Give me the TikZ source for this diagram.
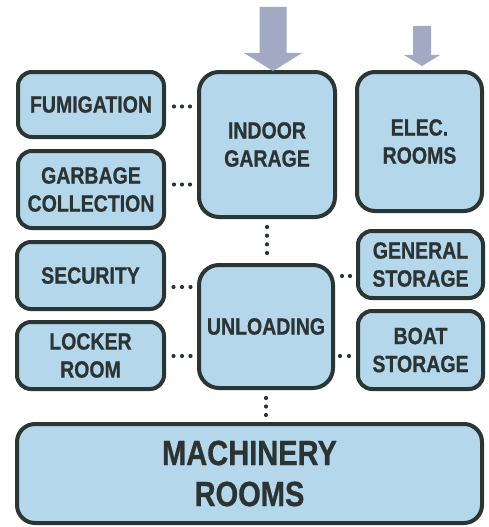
\documentclass[tikz,border=0pt]{standalone}
\usepackage{fontspec}
\newfontfamily\lbl[FakeStretch=0.83, BoldFeatures={FakeBold=0.8}]{Liberation Sans}
\usetikzlibrary{calc,decorations.markings}
\definecolor{boxfill}{HTML}{B5D7EB}
\definecolor{boxline}{HTML}{2B3533}
\definecolor{arrowc}{HTML}{A2A9C2}
\definecolor{txt}{HTML}{2B3333}
\begin{document}
\begin{tikzpicture}[x=1pt,y=-1pt,
  room/.style={draw=boxline, fill=boxfill, line width=4pt, rounded corners=14pt,
    inner sep=0pt, outer sep=0pt, align=center, text=txt,
    font=\lbl\bfseries\fontsize{23.5}{28}\selectfont},
  bigroom/.style={room, rounded corners=20pt},
  dotlink/.style n args={3}{decoration={markings,
      mark=between positions #1 and #2 step #3 with {\fill[boxline] (0,0) circle (2.1pt);}},
    decorate},
  feed/.style={fill=arrowc}]
\fill[white] (0,0) rectangle (488,527);
\useasboundingbox (0,0) rectangle (488,527);

\node[room, minimum width=146pt, minimum height=65pt] (fum) at (91,104.5) {FUMIGATION};
\node[room, minimum width=146pt, minimum height=77pt] (garb) at (91,189.5) {GARBAGE\\COLLECTION};
\node[bigroom, minimum width=136pt, minimum height=145pt] (garage) at (267,144.5) {INDOOR\\GARAGE};
\node[bigroom, rounded corners=18pt, minimum width=125pt, minimum height=139pt] (elec) at (419.5,141.5) {ELEC.\\ROOMS};
\node[room, minimum width=147pt, minimum height=67pt] (sec) at (90.5,275.5) {SECURITY};
\node[room, minimum width=147pt, minimum height=67pt] (lock) at (90.5,355.5) {LOCKER\\ROOM};
\node[bigroom, minimum width=134pt, minimum height=123pt] (unload) at (266,326.5) {UNLOADING};
\node[room, minimum width=125pt, minimum height=67pt] (gen) at (420.5,264.5) {GENERAL\\STORAGE};
\node[room, minimum width=125pt, minimum height=78pt] (boat) at (420.5,350) {BOAT\\STORAGE};
\node[room, rounded corners=18pt, minimum width=465pt, minimum height=99pt,
  font=\lbl\bfseries\fontsize{35}{41}\selectfont] (mach) at (249.5,473.5) {MACHINERY\\ROOMS};

% feed arrows
\coordinate (t1) at ($(garage.north)+(6,-1)$);
\fill[feed] ($(t1)+(-13.5,-64)$) -- ($(t1)+(13.5,-64)$) -- ($(t1)+(13.5,-18)$)
  -- ($(t1)+(29,-18)$) -- (t1) -- ($(t1)+(-29,-18)$) -- ($(t1)+(-13.5,-18)$) -- cycle;
\coordinate (t2) at ($(elec.north)+(2.5,-6)$);
\fill[feed] ($(t2)+(-9,-40)$) -- ($(t2)+(9,-40)$) -- ($(t2)+(9,-11)$)
  -- ($(t2)+(18,-11)$) -- (t2) -- ($(t2)+(-18,-11)$) -- ($(t2)+(-9,-11)$) -- cycle;

% dotted links
\coordinate (a1) at ($(fum.east)+(0,2)$);
\path[dotlink={10pt}{-7.5pt}{8pt}] (a1) -- (a1 -| garage.west);
\coordinate (a2) at ($(garb.east)+(0,-5)$);
\path[dotlink={10pt}{-7.5pt}{8pt}] (a2) -- (a2 -| garage.west);
\coordinate (a3) at ($(sec.east)+(0,11.5)$);
\path[dotlink={9.5pt}{-7.5pt}{8.5pt}] (a3) -- (a3 -| unload.west);
\coordinate (a4) at ($(lock.east)+(0,0.5)$);
\path[dotlink={9.5pt}{-7.5pt}{8.5pt}] (a4) -- (a4 -| unload.west);
\coordinate (a5) at ($(gen.west)+(0,11.5)$);
\path[dotlink={9pt}{-7.5pt}{8pt}] (a5 -| unload.east) -- (a5);
\coordinate (a6) at ($(boat.west)+(0,6)$);
\path[dotlink={7pt}{-8.5pt}{9pt}] (a6 -| unload.east) -- (a6);
\path[dotlink={10pt}{-11.5pt}{8.67pt}] (garage.south) -- (garage.south |- unload.north);
\path[dotlink={10pt}{-8.5pt}{8.5pt}] (unload.south) -- (unload.south |- mach.north);
\end{tikzpicture}
\end{document}
